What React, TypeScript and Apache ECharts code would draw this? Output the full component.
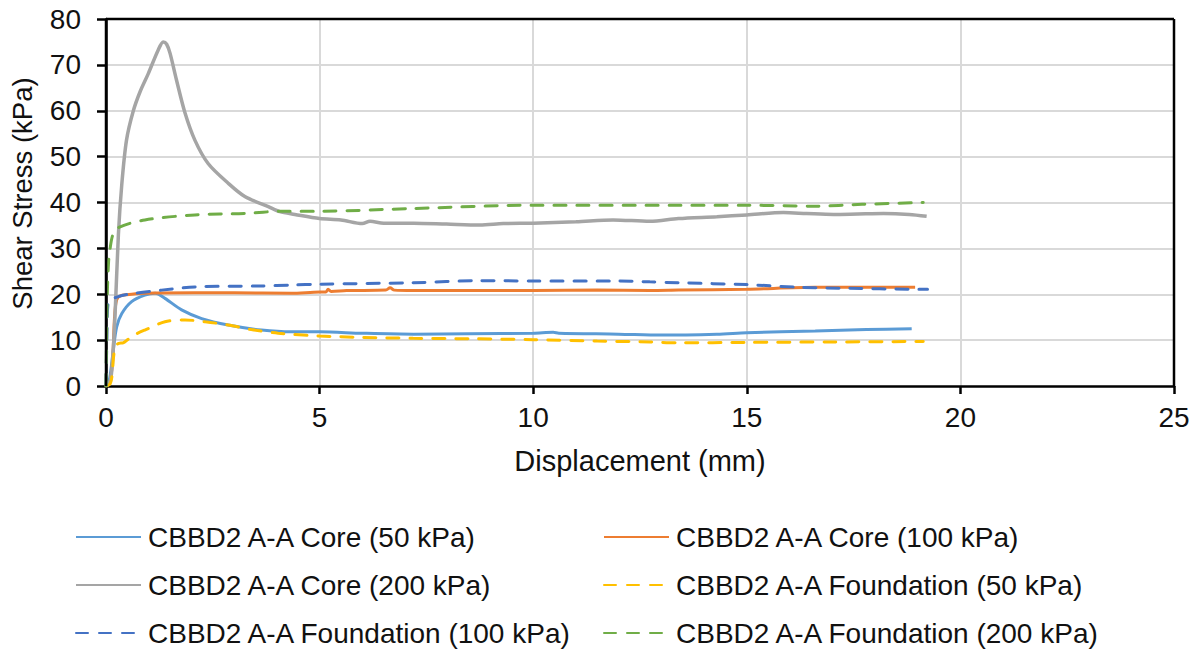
import React, { useEffect, useRef } from "react";
import * as echarts from "echarts";

const xTicks = [0, 5, 10, 15, 20, 25];
const yTicks = [0, 10, 20, 30, 40, 50, 60, 70, 80];

const core50: number[][] = [
  [0, 0], [0.05, 0.3], [0.1, 2.5], [0.17, 7.8], [0.25, 12.9], [0.37, 15.8], [0.6, 18.4],
  [0.91, 19.8], [1.15, 20.2], [1.38, 19.1], [1.77, 16.6], [2.24, 14.7], [2.86, 13.3],
  [3.64, 12.2], [4.34, 11.8], [5, 11.8], [6, 11.5], [7.2, 11.3], [8.5, 11.4], [10, 11.5],
  [10.47, 11.7], [10.6, 11.5], [12, 11.3], [13, 11.1], [14.3, 11.3], [15, 11.6],
  [16.6, 12.0], [17.8, 12.3], [18.86, 12.5],
];

const core100: number[][] = [
  [0, 0], [0.08, 0.5], [0.15, 5], [0.2, 15], [0.25, 18.8], [0.35, 19.7], [0.6, 20.0],
  [0.91, 20.2], [2.08, 20.3], [3, 20.3], [4.34, 20.2], [5, 20.5], [5.15, 20.5], [5.2, 21.1],
  [5.27, 20.6], [5.63, 20.8], [6.55, 20.9], [6.65, 21.4], [6.75, 20.9], [7.19, 20.8],
  [10, 20.8], [11.5, 20.9], [12.73, 20.8], [13.4, 20.9], [15, 21.1], [16.6, 21.5], [18.94, 21.5],
];

const core200: number[][] = [
  [0, 0], [0.05, 0.6], [0.1, 1], [0.15, 5], [0.21, 15], [0.29, 33], [0.37, 44], [0.48, 53.6],
  [0.64, 60], [0.8, 64.2], [0.99, 68.1], [1.22, 73.2], [1.34, 75.0], [1.42, 74.5], [1.5, 72.5],
  [1.65, 66.7], [1.85, 59.5], [2.08, 53.6], [2.39, 48.5], [2.86, 44.2], [3.25, 41.3],
  [3.8, 39.1], [4.07, 38.0], [4.42, 37.4], [5, 36.5], [5.5, 36.2], [6.0, 35.4], [6.18, 35.9],
  [6.5, 35.5], [7.2, 35.5], [7.97, 35.3], [8.75, 35.1], [9.3, 35.4], [10, 35.5], [11, 35.8],
  [11.87, 36.2], [12.73, 35.9], [13.4, 36.5], [14.3, 36.9], [15, 37.3], [15.86, 37.8],
  [16.4, 37.6], [17.03, 37.4], [17.6, 37.5], [18.2, 37.6], [18.8, 37.4], [19.21, 37.0],
];

const found50: number[][] = [
  [0, 0], [0.1, 0.5], [0.15, 3], [0.17, 5.7], [0.22, 8.7], [0.3, 9.3], [0.4, 9.4], [0.52, 10.2],
  [0.7, 11.3], [0.91, 12.2], [1.38, 14.0], [1.85, 14.4], [2.32, 14.0], [2.86, 13.3],
  [3.4, 12.3], [4.03, 11.5], [5, 10.9], [6, 10.6], [7.19, 10.4], [8.5, 10.3], [10, 10.1],
  [11.5, 9.8], [12.73, 9.6], [13.4, 9.4], [15, 9.5], [17, 9.6], [19.13, 9.7],
];

const found100: number[][] = [
  [0, 0], [0.02, 10], [0.05, 18.1], [0.29, 19.5], [0.68, 20.2], [1.3, 20.9], [2.08, 21.6],
  [3.64, 21.8], [4.34, 22.0], [5, 22.2], [7.19, 22.5], [8.75, 22.95], [10, 22.9],
  [11.87, 22.9], [12.73, 22.7], [13.4, 22.5], [15, 22.1], [16.25, 21.5], [17.4, 21.3],
  [18.82, 21.1], [19.23, 21.1],
];

const found200: number[][] = [
  [0, 0], [0.01, 8], [0.03, 20], [0.06, 27], [0.09, 29.6], [0.17, 33.2], [0.33, 34.7],
  [0.91, 36.2], [2.08, 37.3], [3.25, 37.6], [4.11, 38.1], [5, 38.1], [7.19, 38.7], [10, 39.4],
  [13.4, 39.4], [15, 39.4], [16.6, 39.2], [17.7, 39.6], [19.13, 40.0],
];

const names = [
  "CBBD2 A-A Core (50 kPa)",
  "CBBD2 A-A Core (100 kPa)",
  "CBBD2 A-A Core (200 kPa)",
  "CBBD2 A-A Foundation (50 kPa)",
  "CBBD2 A-A Foundation (100 kPa)",
  "CBBD2 A-A Foundation (200 kPa)",
];
const colors = ["#5B9BD5", "#ED7D31", "#A5A5A5", "#FFC000", "#4472C4", "#70AD47"];
const dashed = [false, false, false, true, true, true];
const seriesData = [core50, core100, core200, found50, found100, found200];
// legend slot for each series: [column, row]
const legendSlot = [[0, 0], [1, 0], [0, 1], [1, 1], [0, 2], [1, 2]];

const FONT = "Liberation Sans, Arial, sans-serif";
const TXT = "#111";

const GRID = { left: 106, right: 27, top: 19, bottom: 267 };
const W = 1201;
const H = 653;

export default function App() {
  const ref = useRef<HTMLDivElement>(null);
  useEffect(() => {
    document.body.style.margin = "0";
    const chart = echarts.init(ref.current!, null, { renderer: "svg" });
    const colLeft = [75, 603];
    const rowTop = [523, 571, 619];
    const axisLineStyle = { color: "#000", width: 2.5 };
    const gridLine = { show: true, showMinLine: false, showMaxLine: false, lineStyle: { color: "#D9D9D9", width: 2 } };
    const x0 = GRID.left;
    const x1 = W - GRID.right;
    const y0 = GRID.top;
    const y1 = H - GRID.bottom;
    const frame = { stroke: "#000000", lineWidth: 2.5 };
    chart.setOption({
      animation: false,
      backgroundColor: "#fff",
      grid: GRID,
      graphic: {
        elements: [
          { type: "line", z: 100, silent: true, shape: { x1: x0, y1: y0, x2: x1, y2: y0 }, style: frame },
          { type: "line", z: 100, silent: true, shape: { x1: x1, y1: y0, x2: x1, y2: y1 }, style: frame },
          { type: "line", z: 100, silent: true, shape: { x1: x0, y1: y0, x2: x0, y2: y1 }, style: frame },
        ],
      },
      legend: names.map((n, i) => ({
        orient: "horizontal",
        left: colLeft[legendSlot[i][0]],
        top: rowTop[legendSlot[i][1]],
        itemWidth: 65,
        itemHeight: 14,
        padding: 0,
        selectedMode: false,
        data: [n],
        itemStyle: { opacity: 0 },
        textStyle: { fontFamily: FONT, fontSize: 28, color: TXT, padding: [0, 0, 0, 2] },
      })),
      xAxis: {
        type: "value",
        min: xTicks[0], max: xTicks[xTicks.length - 1], interval: 5,
        name: "Displacement (mm)", nameLocation: "middle", nameGap: 60,
        nameTextStyle: { fontFamily: FONT, fontSize: 29, color: TXT },
        axisLine: { show: true, onZero: false, lineStyle: axisLineStyle },
        axisTick: { show: true, length: 8, lineStyle: axisLineStyle },
        axisLabel: { fontFamily: FONT, fontSize: 28, color: TXT, margin: 17 },
        splitLine: gridLine,
      },
      yAxis: {
        type: "value",
        min: yTicks[0], max: yTicks[yTicks.length - 1], interval: 10,
        name: "Shear Stress (kPa)", nameLocation: "middle", nameGap: 70,
        nameTextStyle: { fontFamily: FONT, fontSize: 27.5, color: TXT, padding: [0, 0, 0, 18] },
        axisLine: { show: true, onZero: false, lineStyle: axisLineStyle },
        axisTick: { show: true, length: 9, lineStyle: axisLineStyle },
        axisLabel: { fontFamily: FONT, fontSize: 28, color: TXT, margin: 25 },
        splitLine: gridLine,
      },
      series: seriesData.map((d, i) => ({
        name: names[i],
        type: "line",
        data: d,
        symbol: "none",
        smooth: 0.3,
        color: colors[i],
        itemStyle: { color: colors[i] },
        lineStyle: {
          color: colors[i],
          width: i === 2 ? 3.5 : 3,
          type: dashed[i] ? [12, 11] : "solid",
          cap: dashed[i] ? "round" : "butt",
        },
        z: 2 + i,
      })),
    });
    return () => chart.dispose();
  }, []);
  return <div ref={ref} style={{ width: W, height: H }} />;
}
